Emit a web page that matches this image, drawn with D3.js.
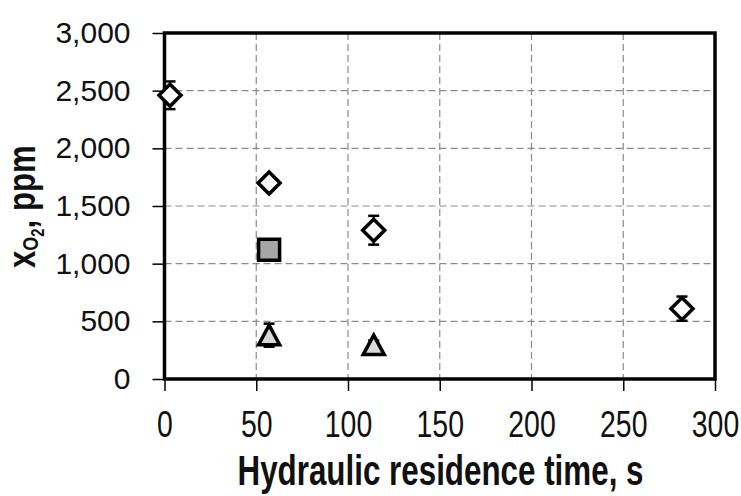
<!DOCTYPE html>
<html>
<head>
  <meta charset="UTF-8">
  <title>Oxygen vs residence time</title>
  <script src="https://d3js.org/d3.v7.min.js"></script>
  <style>
    body { margin: 0; background: #fff; }
    .chart svg { display: block; }
  </style>
</head>
<body>

<div class="chart"></div>

<script>

  // data
  var xTicks = [0, 50, 100, 150, 200, 250, 300];
  var yTicks = [0, 500, 1000, 1500, 2000, 2500, 3000];

  var diamondX = [3, 57, 114, 282];
  var diamondY = [2460, 1700, 1290, 610];
  var diamondErr = [120, 60, 125, 105];

  var squareX = [57];
  var squareY = [1120];
  var squareErr = [0];

  var triangleX = [57, 114];
  var triangleY = [380, 294];
  var triangleErr = [100, 40];

  var margin = { top: 33, right: 26, bottom: 117, left: 164.5 };
  var width = 741 - margin.left - margin.right;
  var height = 496 - margin.top - margin.bottom;

  var svg = d3.select('.chart')
    .append('svg')
      .attr('width', 741)
      .attr('height', 496)
    .append('g')
      .attr('transform', 'translate(' + margin.left + ', ' + margin.top + ')');

  var xScale = d3.scaleLinear().domain([0, 300]).range([0, width]);
  var yScale = d3.scaleLinear().domain([0, 3000]).range([height, 0]);

  // dashed grid
  svg.append('g')
    .selectAll('line')
    .data(xTicks.slice(1, -1))
    .enter().append('line')
      .attr('x1', d => xScale(d)).attr('x2', d => xScale(d))
      .attr('y1', 0).attr('y2', height)
      .attr('stroke', '#8a8a8a').attr('stroke-width', 1.2)
      .attr('stroke-dasharray', '7,4');
  svg.append('g')
    .selectAll('line')
    .data(yTicks.slice(1, -1))
    .enter().append('line')
      .attr('x1', 0).attr('x2', width)
      .attr('y1', d => yScale(d)).attr('y2', d => yScale(d))
      .attr('stroke', '#8a8a8a').attr('stroke-width', 1.2)
      .attr('stroke-dasharray', '7,4');

  // axes
  var yAxis = d3.axisLeft(yScale)
    .tickValues(yTicks)
    .tickSize(12)
    .tickPadding(22)
    .tickFormat(d3.format(','));
  var gy = svg.append('g').call(yAxis);
  gy.select('.domain').remove();
  gy.selectAll('.tick line').attr('stroke', '#000').attr('stroke-width', 1.5);
  gy.selectAll('.tick text')
    .style('font-family', '"Liberation Sans", Arial, sans-serif')
    .style('font-size', '30px')
    .attr('fill', '#111');

  var xAxis = d3.axisBottom(xScale)
    .tickValues(xTicks)
    .tickSize(12)
    .tickPadding(19);
  var gx = svg.append('g')
    .attr('transform', `translate(0, ${height})`)
    .call(xAxis);
  gx.select('.domain').remove();
  gx.selectAll('.tick line').attr('stroke', '#000').attr('stroke-width', 1.5);
  gx.selectAll('.tick text')
    .style('font-family', '"Liberation Sans", Arial, sans-serif')
    .style('font-size', '37.7px')
    .attr('fill', '#111')
    .attr('textLength', d => String(d).length * 15.8)
    .attr('lengthAdjust', 'spacingAndGlyphs');

  // plot frame
  svg.append('rect')
    .attr('x', 0).attr('y', 0)
    .attr('width', width).attr('height', height)
    .attr('fill', 'none')
    .attr('stroke', '#000')
    .attr('stroke-width', 3.5);

  // error bars
  function errorBars(xs, ys, errs) {
    var g = svg.append('g').attr('stroke', '#000');
    xs.forEach((x, i) => {
      if (!errs[i]) return;
      var cx = xScale(x);
      var top = yScale(ys[i] + errs[i]);
      var bot = yScale(ys[i] - errs[i]);
      g.append('line').attr('x1', cx).attr('x2', cx).attr('y1', top).attr('y2', bot)
        .attr('stroke-width', 2);
      [top, bot].forEach(yy => {
        g.append('line').attr('x1', cx - 5.5).attr('x2', cx + 5.5).attr('y1', yy).attr('y2', yy)
          .attr('stroke-width', 2.5);
      });
    });
  }
  errorBars(diamondX, diamondY, diamondErr);
  errorBars(squareX, squareY, squareErr);
  errorBars(triangleX, triangleY, triangleErr);

  // markers
  var diamondPath = 'M0,-11L11,0L0,11L-11,0Z';
  var squarePath = 'M-10.5,-10.5H10.5V10.5H-10.5Z';
  var trianglePath = 'M0,-10L10.5,9.5H-10.5Z';

  function markers(xs, ys, path, fill) {
    svg.append('g')
      .selectAll('path')
      .data(xs.map((x, i) => [x, ys[i]]))
      .enter().append('path')
        .attr('d', path)
        .attr('transform', d => `translate(${xScale(d[0])}, ${yScale(d[1])})`)
        .attr('fill', fill)
        .attr('stroke', '#000')
        .attr('stroke-width', 3.5);
  }
  markers(diamondX, diamondY, diamondPath, '#fff');
  markers(squareX, squareY, squarePath, '#a6a6a6');
  markers(triangleX, triangleY, trianglePath, '#d9d9d9');

  // axis titles
  var root = d3.select('.chart svg');
  root.append('text')
    .attr('x', 440.5)
    .attr('y', 485)
    .attr('text-anchor', 'middle')
    .attr('textLength', 406)
    .attr('lengthAdjust', 'spacingAndGlyphs')
    .style('font-family', '"Liberation Sans", Arial, sans-serif')
    .style('font-size', '42px')
    .style('font-weight', 'bold')
    .attr('fill', '#111')
    .text('Hydraulic residence time, s');

  var yTitle = root.append('text')
    .attr('transform', 'translate(35, 268) rotate(-90) scale(0.82, 1)')
    .attr('text-anchor', 'start')
    .style('font-family', '"Liberation Sans", Arial, sans-serif')
    .style('font-size', '38px')
    .style('font-weight', 'bold')
    .attr('fill', '#111');
  yTitle.append('tspan').text('x');
  yTitle.append('tspan').attr('dy', 3).style('font-size', '22px').text('O');
  yTitle.append('tspan').attr('dy', 6).style('font-size', '18px').text('2');
  yTitle.append('tspan').attr('dy', -9).text(', ppm');

</script>

</body>
</html>
